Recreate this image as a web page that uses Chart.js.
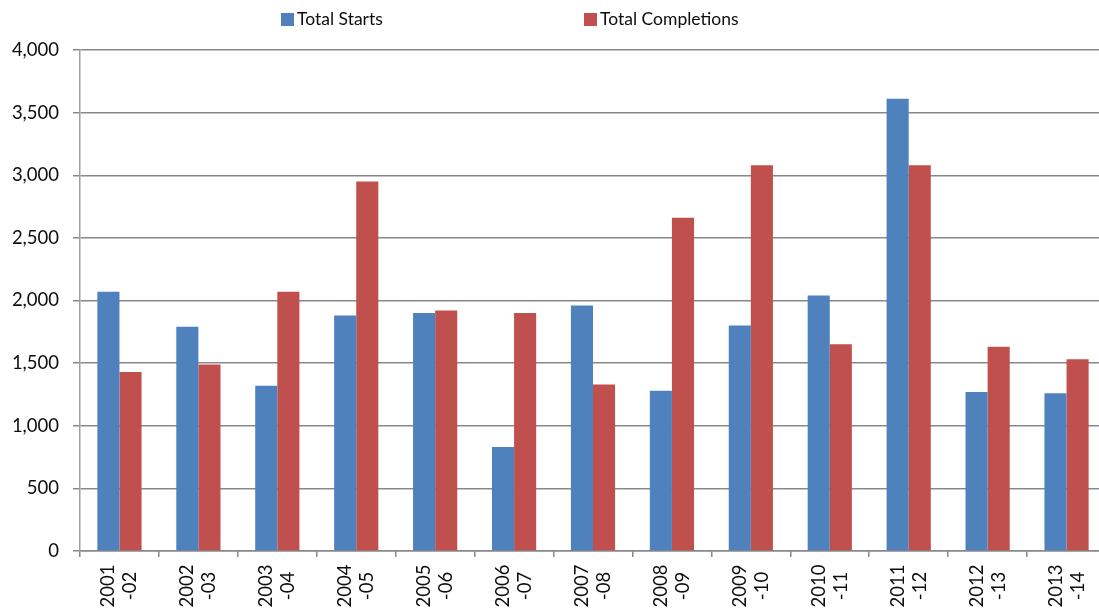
<!DOCTYPE html>
<html>
<head>
<meta charset="utf-8">
<script src="https://cdn.jsdelivr.net/npm/chart.js@4/dist/chart.umd.min.js"></script>
<style>
  html, body { margin: 0; padding: 0; background: #fff; overflow: hidden; }
  .wrap { width: 1106px; height: 610px; }
</style>
</head>
<body>
<div class="wrap"><canvas id="chart" width="1106" height="610"></canvas></div>
<script>
const categories = [
  ['2001', '-02'], ['2002', '-03'], ['2003', '-04'], ['2004', '-05'],
  ['2005', '-06'], ['2006', '-07'], ['2007', '-08'], ['2008', '-09'],
  ['2009', '-10'], ['2010', '-11'], ['2011', '-12'], ['2012', '-13'],
  ['2013', '-14']
];
const totalStarts = [2070, 1790, 1320, 1880, 1900, 830, 1960, 1280, 1800, 2040, 3610, 1270, 1260];
const totalCompletions = [1430, 1490, 2070, 2950, 1920, 1900, 1330, 2660, 3080, 1650, 3080, 1630, 1530];
const yTicks = [0, 500, 1000, 1500, 2000, 2500, 3000, 3500, 4000];

const FONT = 'Lato, "Open Sans", sans-serif';
const TEXT = '#0d0d0d';
const GRID = '#888888';

// legend: small square + label, placed above the plot
const legendPos = [281, 584];
const topLegend = {
  id: 'topLegend',
  afterDraw(chart) {
    const ctx = chart.ctx;
    ctx.save();
    ctx.font = '17.5px ' + FONT;
    ctx.textBaseline = 'middle';
    ctx.textAlign = 'left';
    chart.data.datasets.forEach((ds, i) => {
      const x = legendPos[i];
      ctx.fillStyle = ds.backgroundColor;
      ctx.fillRect(x, 13, 13, 13);
      ctx.fillStyle = TEXT;
      ctx.fillText(ds.label, x + 16, 19.5);
    });
    ctx.restore();
  }
};

// two-line category labels, turned on their side and centred
const sideLabels = {
  id: 'sideLabels',
  afterDraw(chart) {
    const ctx = chart.ctx;
    const xs = chart.scales.x;
    const cy = chart.chartArea.bottom + 35;
    ctx.save();
    ctx.font = '18.5px ' + FONT;
    ctx.fillStyle = TEXT;
    ctx.textAlign = 'center';
    ctx.textBaseline = 'middle';
    chart.data.labels.forEach((lines, i) => {
      const x = xs.getPixelForTick(i);
      ctx.save();
      ctx.translate(x, cy);
      ctx.rotate(-Math.PI / 2);
      lines.forEach((ln, j) => {
        ctx.fillText(ln, 0, (j - (lines.length - 1) / 2) * 22);
      });
      ctx.restore();
    });
    ctx.restore();
  }
};

new Chart(document.getElementById('chart'), {
  type: 'bar',
  data: {
    labels: categories,
    datasets: [
      {
        label: 'Total Starts',
        data: totalStarts,
        backgroundColor: '#4F81BD',
        categoryPercentage: 0.56,
        barPercentage: 1.0
      },
      {
        label: 'Total Completions',
        data: totalCompletions,
        backgroundColor: '#C0504D',
        categoryPercentage: 0.56,
        barPercentage: 1.0
      }
    ]
  },
  options: {
    responsive: false,
    animation: false,
    layout: { padding: { top: 50, right: 0, left: 0, bottom: 0 } },
    plugins: {
      legend: { display: false },
      tooltip: { enabled: false }
    },
    scales: {
      x: {
        grid: {
          offset: true,
          drawOnChartArea: false,
          drawTicks: true,
          tickLength: 6,
          lineWidth: 1.5,
          color: GRID
        },
        border: { color: GRID, width: 1.5 },
        ticks: { display: false },
        afterFit(scale) { scale.height = 59; }
      },
      y: {
        min: 0,
        max: 4000,
        afterBuildTicks(scale) {
          scale.ticks = yTicks.map(v => ({ value: v }));
        },
        grid: { color: GRID, lineWidth: 1.5, tickLength: 7 },
        border: { color: '#a0a0a0', width: 1.5 },
        ticks: {
          color: TEXT,
          padding: 14,
          font: { family: FONT, size: 18.5 },
          callback: v => v.toLocaleString('en-US')
        },
        afterFit(scale) { scale.width = 80; }
      }
    }
  },
  plugins: [topLegend, sideLabels]
});
</script>
</body>
</html>
